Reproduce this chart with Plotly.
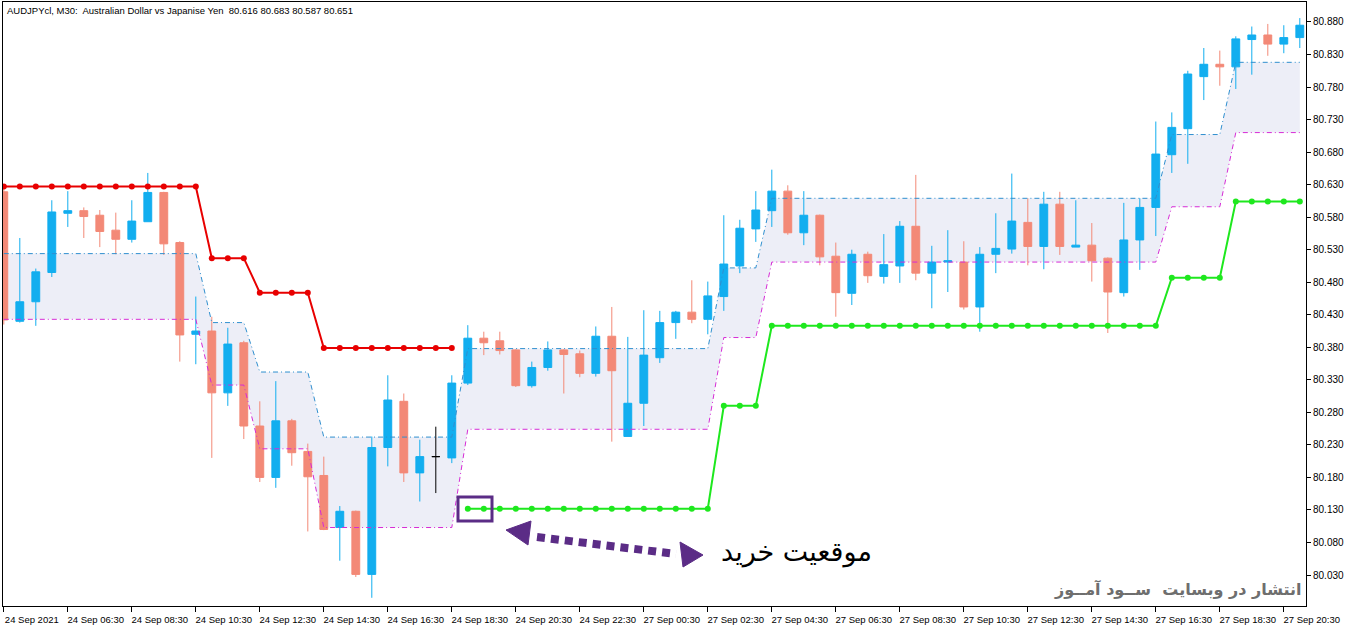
import plotly.graph_objects as go

# ---------------- data ----------------
bar_index = list(range(82))
open_ = [80.619, 80.420, 80.450, 80.495, 80.586, 80.590, 80.583, 80.560, 80.546, 80.573,
         80.618, 80.541, 80.400, 80.405, 80.310, 80.387, 80.259, 80.180, 80.267, 80.220,
         80.183, 80.103, 80.128, 80.031, 80.226, 80.297, 80.187, 80.212, 80.210, 80.325,
         80.394, 80.390, 80.376, 80.321, 80.349, 80.376, 80.370, 80.340, 80.397, 80.243,
         80.294, 80.364, 80.418, 80.434, 80.423, 80.458, 80.505, 80.562, 80.590, 80.620,
         80.556, 80.583, 80.520, 80.463, 80.523, 80.489, 80.505, 80.566, 80.494, 80.511,
         80.511, 80.442, 80.523, 80.531, 80.572, 80.535, 80.600, 80.534, 80.537, 80.517,
         80.464, 80.545, 80.595, 80.676, 80.716, 80.796, 80.815, 80.811, 80.853, 80.860,
         80.846, 80.856]
high = [80.625, 80.548, 80.501, 80.606, 80.620, 80.595, 80.591, 80.587, 80.606, 80.648,
        80.619, 80.543, 80.458, 80.427, 80.410, 80.390, 80.297, 80.328, 80.270, 80.232,
        80.212, 80.136, 80.129, 80.243, 80.337, 80.309, 80.238, 80.258, 80.337, 80.414,
        80.404, 80.404, 80.377, 80.358, 80.389, 80.377, 80.375, 80.412, 80.442, 80.396,
        80.437, 80.436, 80.436, 80.483, 80.481, 80.583, 80.576, 80.620, 80.653, 80.629,
        80.620, 80.584, 80.541, 80.530, 80.527, 80.554, 80.574, 80.645, 80.536, 80.560,
        80.543, 80.534, 80.586, 80.647, 80.609, 80.619, 80.619, 80.606, 80.571, 80.518,
        80.602, 80.609, 80.727, 80.741, 80.805, 80.840, 80.836, 80.858, 80.873, 80.877,
        80.875, 80.886]
low = [80.415, 80.418, 80.413, 80.488, 80.565, 80.548, 80.534, 80.523, 80.541, 80.573,
       80.522, 80.358, 80.354, 80.210, 80.290, 80.239, 80.173, 80.164, 80.198, 80.097,
       80.099, 80.052, 80.027, 79.995, 80.197, 80.173, 80.143, 80.156, 80.202, 80.322,
       80.368, 80.369, 80.319, 80.318, 80.344, 80.309, 80.334, 80.335, 80.235, 80.243,
       80.259, 80.356, 80.393, 80.417, 80.400, 80.436, 80.494, 80.542, 80.565, 80.553,
       80.537, 80.506, 80.427, 80.445, 80.479, 80.478, 80.479, 80.483, 80.440, 80.465,
       80.438, 80.404, 80.494, 80.524, 80.506, 80.500, 80.522, 80.534, 80.481, 80.402,
       80.458, 80.499, 80.551, 80.648, 80.662, 80.760, 80.782, 80.777, 80.799, 80.828,
       80.832, 80.840]
close = [80.422, 80.450, 80.496, 80.588, 80.590, 80.581, 80.558, 80.546, 80.574, 80.618,
         80.539, 80.399, 80.405, 80.310, 80.385, 80.259, 80.180, 80.267, 80.218, 80.181,
         80.100, 80.128, 80.031, 80.226, 80.299, 80.187, 80.212, 80.212, 80.325, 80.394,
         80.387, 80.375, 80.321, 80.349, 80.376, 80.369, 80.340, 80.397, 80.344, 80.294,
         80.368, 80.418, 80.434, 80.423, 80.459, 80.508, 80.563, 80.591, 80.620, 80.556,
         80.583, 80.519, 80.464, 80.523, 80.490, 80.507, 80.566, 80.494, 80.511, 80.513,
         80.442, 80.523, 80.532, 80.574, 80.535, 80.600, 80.535, 80.537, 80.513, 80.465,
         80.545, 80.595, 80.677, 80.718, 80.800, 80.815, 80.811, 80.854, 80.860, 80.846,
         80.856, 80.875]
doji_bars = [27]

# resistance line (bars 0..28) and support line (bars 29..81)
red_bars = list(range(0, 29))
red_level = [80.627, 80.627, 80.627, 80.627, 80.627, 80.627, 80.627, 80.627, 80.627, 80.627,
             80.627, 80.627, 80.627, 80.517, 80.517, 80.517, 80.464, 80.464, 80.464, 80.464,
             80.379, 80.379, 80.379, 80.379, 80.379, 80.379, 80.379, 80.379, 80.379]
green_bars = list(range(29, 82))
green_level = [80.132, 80.132, 80.132, 80.132, 80.132, 80.132, 80.132, 80.132, 80.132, 80.132,
               80.132, 80.132, 80.132, 80.132, 80.132, 80.132, 80.290, 80.290, 80.290, 80.413,
               80.413, 80.413, 80.413, 80.413, 80.413, 80.413, 80.413, 80.413, 80.413, 80.413,
               80.413, 80.413, 80.413, 80.413, 80.413, 80.413, 80.413, 80.413, 80.413, 80.413,
               80.413, 80.413, 80.413, 80.413, 80.487, 80.487, 80.487, 80.487, 80.604, 80.604,
               80.604, 80.604, 80.604]

upper_band = [80.524, 80.524, 80.524, 80.524, 80.524, 80.524, 80.524, 80.524, 80.524, 80.524,
              80.524, 80.524, 80.524, 80.418, 80.418, 80.418, 80.342, 80.342, 80.342, 80.342,
              80.242, 80.242, 80.242, 80.242, 80.242, 80.242, 80.242, 80.242, 80.242, 80.378,
              80.378, 80.378, 80.378, 80.378, 80.378, 80.378, 80.378, 80.378, 80.378, 80.378,
              80.378, 80.378, 80.378, 80.378, 80.378, 80.502, 80.502, 80.502, 80.609, 80.609,
              80.609, 80.609, 80.609, 80.609, 80.609, 80.609, 80.609, 80.609, 80.609, 80.609,
              80.609, 80.609, 80.609, 80.609, 80.609, 80.609, 80.609, 80.609, 80.609, 80.609,
              80.609, 80.609, 80.609, 80.707, 80.707, 80.707, 80.707, 80.818, 80.818, 80.818,
              80.818, 80.818]
lower_band = [80.423, 80.423, 80.423, 80.423, 80.423, 80.423, 80.423, 80.423, 80.423, 80.423,
              80.423, 80.423, 80.423, 80.322, 80.322, 80.322, 80.224, 80.224, 80.224, 80.224,
              80.103, 80.103, 80.103, 80.103, 80.103, 80.103, 80.103, 80.103, 80.103, 80.254,
              80.254, 80.254, 80.254, 80.254, 80.254, 80.254, 80.254, 80.254, 80.254, 80.254,
              80.254, 80.254, 80.254, 80.254, 80.254, 80.395, 80.395, 80.395, 80.511, 80.511,
              80.511, 80.511, 80.511, 80.511, 80.511, 80.511, 80.511, 80.511, 80.511, 80.511,
              80.511, 80.511, 80.511, 80.511, 80.511, 80.511, 80.511, 80.511, 80.511, 80.511,
              80.511, 80.511, 80.511, 80.596, 80.596, 80.596, 80.596, 80.710, 80.710, 80.710,
              80.710, 80.710]

x_tick_bars = [0, 4, 8, 12, 16, 20, 24, 28, 32, 36, 40, 44, 48, 52, 56, 60, 64, 68, 72, 76, 80]
x_tick_labels = ["24 Sep 2021", "24 Sep 06:30", "24 Sep 08:30", "24 Sep 10:30", "24 Sep 12:30",
                 "24 Sep 14:30", "24 Sep 16:30", "24 Sep 18:30", "24 Sep 20:30", "24 Sep 22:30",
                 "27 Sep 00:30", "27 Sep 02:30", "27 Sep 04:30", "27 Sep 06:30", "27 Sep 08:30",
                 "27 Sep 10:30", "27 Sep 12:30", "27 Sep 14:30", "27 Sep 16:30", "27 Sep 18:30",
                 "27 Sep 20:30"]
y_tick_values = [80.030, 80.080, 80.130, 80.180, 80.230, 80.280, 80.330, 80.380, 80.430, 80.480,
                 80.530, 80.580, 80.630, 80.680, 80.730, 80.780, 80.830, 80.880]

header_text = "AUDJPYcl, M30:  Australian Dollar vs Japanise Yen  80.616 80.683 80.587 80.651"
label_text = "موقعیت خرید"
watermark_text = "انتشار در وبسایت  ســود آمــوز"

# ---------------- layout geometry ----------------
W, H = 1362, 628
ML, MR, MT, MB = 3, 56, 2, 22
PW, PH = W - ML - MR, H - MT - MB
X0 = -0.05
X1 = X0 + PW / 16.0
Y0, Y1 = 79.9824, 80.9107


def px2x(px):
    return X0 + (px - ML) / PW * (X1 - X0)


def py2y(py):
    return Y1 - (py - MT) / PH * (Y1 - Y0)


BLUE = "#12AEEF"
SALMON = "#F38977"
PURPLE = "#5B2C86"

fig = go.Figure()

# candles
norm = [i for i in bar_index if i not in doji_bars]
fig.add_trace(go.Candlestick(
    x=norm, open=[open_[i] for i in norm], high=[high[i] for i in norm],
    low=[low[i] for i in norm], close=[close[i] for i in norm],
    increasing=dict(line=dict(color=BLUE, width=1), fillcolor=BLUE),
    decreasing=dict(line=dict(color=SALMON, width=1), fillcolor=SALMON),
    whiskerwidth=0, showlegend=False))
fig.add_trace(go.Candlestick(
    x=doji_bars, open=[open_[i] for i in doji_bars], high=[high[i] for i in doji_bars],
    low=[low[i] for i in doji_bars], close=[close[i] for i in doji_bars],
    increasing=dict(line=dict(color="#000000", width=1), fillcolor="#000000"),
    decreasing=dict(line=dict(color="#000000", width=1), fillcolor="#000000"),
    whiskerwidth=0, showlegend=False))

# band lines
fig.add_trace(go.Scatter(x=bar_index, y=upper_band, mode="lines",
                         line=dict(color="#2F8FCF", width=1, dash="5px,3px,1px,3px"),
                         hoverinfo="skip", showlegend=False))
fig.add_trace(go.Scatter(x=bar_index, y=lower_band, mode="lines",
                         line=dict(color="#D62BD6", width=1, dash="5px,3px,1px,3px"),
                         hoverinfo="skip", showlegend=False))

# red / green stop lines
fig.add_trace(go.Scatter(x=red_bars, y=red_level, mode="lines+markers",
                         line=dict(color="#E80000", width=2),
                         marker=dict(color="#E80000", size=6), showlegend=False))
fig.add_trace(go.Scatter(x=green_bars, y=green_level, mode="lines+markers",
                         line=dict(color="#1EE81E", width=2),
                         marker=dict(color="#1EE81E", size=6), showlegend=False))

shapes = []
# band fill below the candles, built from the band arrays
pts = [(x, y) for x, y in zip(bar_index, upper_band)] + \
      [(x, y) for x, y in zip(bar_index[::-1], lower_band[::-1])]
band_path = "M " + " L ".join(f"{x},{y}" for x, y in pts) + " Z"
shapes.append(dict(type="path", xref="x", yref="y", path=band_path, layer="below",
                   fillcolor="#EDEEF7", line=dict(width=0)))
# purple box around entry
shapes.append(dict(type="rect", xref="x", yref="y",
                   x0=px2x(458), x1=px2x(492), y0=py2y(521), y1=py2y(497),
                   line=dict(color=PURPLE, width=3)))
# dotted arrow shaft
shapes.append(dict(type="line", xref="x", yref="y",
                   x0=px2x(537), y0=py2y(537), x1=px2x(676), y1=py2y(554),
                   line=dict(color=PURPLE, width=8, dash="8px,6px")))


def tri(p):
    s = "M " + " L ".join(f"{px2x(a)},{py2y(b)}" for a, b in p) + " Z"
    return dict(type="path", xref="x", yref="y", path=s, fillcolor=PURPLE,
                line=dict(color=PURPLE, width=1))


shapes.append(tri([(506, 530), (531, 521), (528, 545)]))
shapes.append(tri([(703, 555), (680, 542), (683, 567)]))

annotations = [
    dict(text=header_text, xref="paper", yref="paper", x=2 / PW, y=1, yshift=-1,
         xanchor="left", yanchor="top", showarrow=False,
         font=dict(family="Liberation Sans, Arial", size=9.5, color="#000000")),
    dict(text=label_text, xref="x", yref="y", x=px2x(796), y=py2y(552),
         xanchor="center", yanchor="middle", showarrow=False,
         font=dict(family="DejaVu Sans", size=27, color="#000000")),
    dict(text="<b>" + watermark_text + "</b>", xref="x", yref="y", x=px2x(1177), y=py2y(589),
         xanchor="center", yanchor="middle", showarrow=False,
         font=dict(family="DejaVu Sans", size=16, color="#6E6E6E")),
]

fig.update_layout(
    width=W, height=H,
    margin=dict(l=ML, r=MR, t=MT, b=MB, pad=0),
    paper_bgcolor="#FFFFFF", plot_bgcolor="#FFFFFF",
    showlegend=False,
    shapes=shapes, annotations=annotations,
    xaxis=dict(range=[X0, X1], rangeslider=dict(visible=False), showgrid=False, zeroline=False,
               automargin=False,
               tickmode="array", tickvals=x_tick_bars, ticktext=x_tick_labels,
               ticks="outside", ticklen=5, tickcolor="#000000", ticklabelshift=28,
               ticklabelstandoff=0,
               showline=True, linecolor="#000000", linewidth=1, mirror=True,
               tickfont=dict(family="Liberation Sans, Arial", size=9.5, color="#000000")),
    yaxis=dict(range=[Y0, Y1], side="right", showgrid=False, zeroline=False,
               automargin=False,
               tickmode="array", tickvals=y_tick_values, tickformat=".3f",
               ticks="outside", ticklen=4, tickcolor="#000000",
               showline=True, linecolor="#000000", linewidth=1, mirror=True,
               tickfont=dict(family="Liberation Sans, Arial", size=10, color="#000000")),
)

fig.write_html("out.html", config={"displayModeBar": False},
               post_script="document.body.style.margin='0px';document.body.style.overflow='hidden';")
